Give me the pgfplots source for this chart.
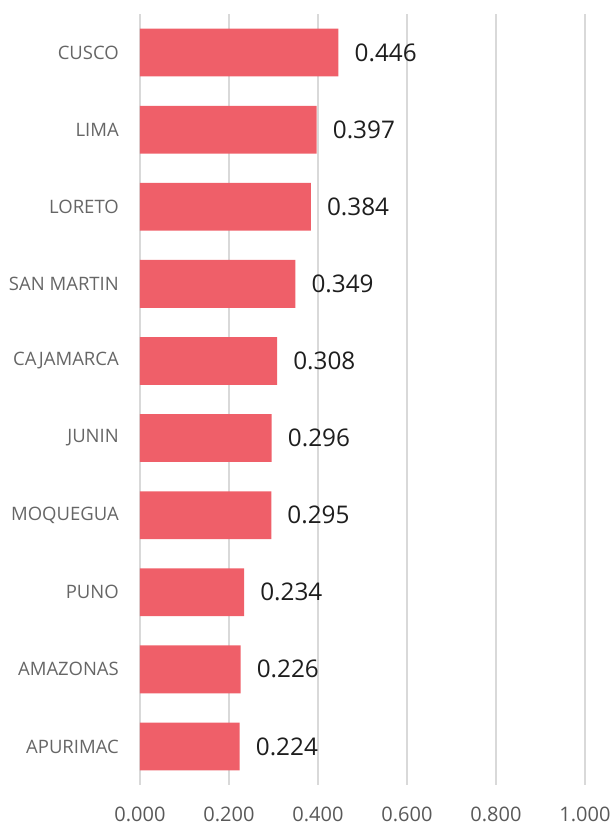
\documentclass[border=0pt]{standalone}
\usepackage{fontspec}
\setmainfont{Open Sans}
\usepackage{pgfplots}
\pgfplotsset{compat=1.18}
\definecolor{barred}{HTML}{EF5F69}
\definecolor{labgray}{HTML}{666666}
\definecolor{tickgray}{HTML}{595959}
\definecolor{gridgray}{HTML}{D9D9D9}
\definecolor{valblack}{HTML}{1E1E1E}
\begin{document}
\begin{tikzpicture}
\useasboundingbox (-140pt,-40pt) rectangle (472pt,785pt);
\begin{axis}[
  at={(0pt,0pt)}, anchor=south west,
  scale only axis,
  width=445pt, height=771pt,
  xbar,
  xmin=0, xmax=1,
  ymin=-0.5, ymax=9.5,
  y dir=reverse,
  bar width=0.62,
  xtick={0,0.2,0.4,0.6,0.8,1.0},
  ytick={0,1,2,3,4,5,6,7,8,9},
  yticklabels={CUSCO,LIMA,LORETO,SAN MARTIN,CAJAMARCA,JUNIN,MOQUEGUA,PUNO,AMAZONAS,APURIMAC},
  xmajorgrids,
  grid style={color=gridgray, line width=1.3pt},
  axis line style={draw=none},
  major tick length=0pt,
  tick style={draw=none},
  /pgf/number format/assume math mode=true,
  xticklabel style={/pgf/number format/.cd, fixed, fixed zerofill, precision=3, /tikz/.cd,
     font=\fontsize{20}{24}\selectfont, text=tickgray, inner sep=0pt, anchor=north},
  xticklabel shift=22pt,
  yticklabel style={font=\fontsize{18.5}{22}\selectfont, text=labgray, inner sep=0pt, anchor=east},
  yticklabel shift=21pt,
  nodes near coords,
  point meta=x,
  nodes near coords style={/pgf/number format/.cd, fixed, fixed zerofill, precision=3, assume math mode=true, /tikz/.cd,
     anchor=west, inner sep=0pt, xshift=16pt, font=\fontsize{24.3}{28}\selectfont, text=valblack},
]
\addplot[fill=barred, draw=none]
  coordinates {
  (0.446,0) (0.397,1) (0.384,2) (0.349,3) (0.308,4)
  (0.296,5) (0.295,6) (0.234,7) (0.226,8) (0.224,9)
};
\end{axis}
\end{tikzpicture}
\end{document}
